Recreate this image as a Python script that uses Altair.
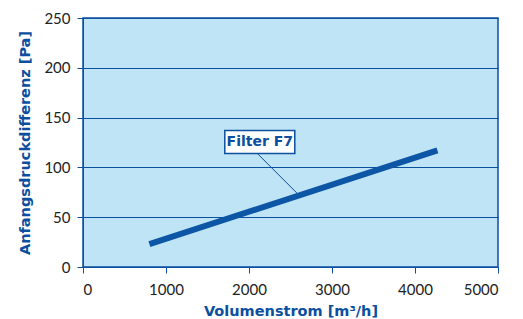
import altair as alt
import pandas as pd

# data
flow = [800, 4270]
pressure = [23, 117]
label_text = ["Filter F7"]
label_x = [2130]
label_y = [125.5]
leader_x = [2100, 2580]
leader_y = [114, 74]

BLUE = "#0b4f9e"
BG = "#bee4f5"
FONT = "Lato"
TFONT = "DejaVu Sans"

line_df = pd.DataFrame({"x": flow, "y": pressure})
lab_df = pd.DataFrame({"x": label_x, "y": label_y, "t": label_text})
lead_df = pd.DataFrame({"x": leader_x, "y": leader_y})

xs = alt.Scale(domain=[0, 5000], nice=False)
ys = alt.Scale(domain=[0, 250], nice=False)

x_axis = alt.Axis(
    title="Volumenstrom [m³/h]", values=[0, 1000, 2000, 3000, 4000, 5000], format="d",
    grid=False, domainColor=BLUE, tickColor=BLUE, tickSize=6,
    labelFont=FONT, labelFontSize=15, labelColor="#222222", labelPadding=9,
    titleFont=TFONT, titleFontSize=14.5, titleFontWeight="bold", titleColor=BLUE,
    titlePadding=7,
)
y_axis = alt.Axis(
    title="Anfangsdruckdifferenz [Pa]", values=[0, 50, 100, 150, 200, 250], format="d",
    grid=True, gridColor=BLUE, gridWidth=1, gridOpacity=1,
    domainColor=BLUE, tickColor=BLUE, tickSize=6,
    labelFont=FONT, labelFontSize=15, labelColor="#222222", labelPadding=7,
    titleFont=TFONT, titleFontSize=14.5, titleFontWeight="bold", titleColor=BLUE,
    titlePadding=11,
)

line = alt.Chart(line_df).mark_line(color="#0d56a6", strokeWidth=6, strokeCap="butt").encode(
    x=alt.X("x:Q", scale=xs, axis=x_axis),
    y=alt.Y("y:Q", scale=ys, axis=y_axis),
)

leader = alt.Chart(lead_df).mark_line(color=BLUE, strokeWidth=1).encode(
    x=alt.X("x:Q", scale=xs), y=alt.Y("y:Q", scale=ys)
)

box = alt.Chart(lab_df).mark_rect(
    fill="white", stroke=BLUE, strokeWidth=1.5, width=70, height=23
).encode(x=alt.X("x:Q", scale=xs), y=alt.Y("y:Q", scale=ys))

txt = alt.Chart(lab_df).mark_text(
    font=TFONT, fontSize=14, fontWeight="bold", color=BLUE
).encode(x=alt.X("x:Q", scale=xs), y=alt.Y("y:Q", scale=ys), text="t:N")

chart = alt.layer(line, leader, box, txt).properties(
    width=415, height=249,
    background="white",
    autosize=alt.AutoSizeParams(type="none"),
    padding={"left": 75, "top": 10, "right": 17, "bottom": 55},
).configure_view(fill=BG, stroke=BLUE, strokeWidth=1.5)

chart.save("out.html", embed_options={"renderer": "svg", "actions": False})
